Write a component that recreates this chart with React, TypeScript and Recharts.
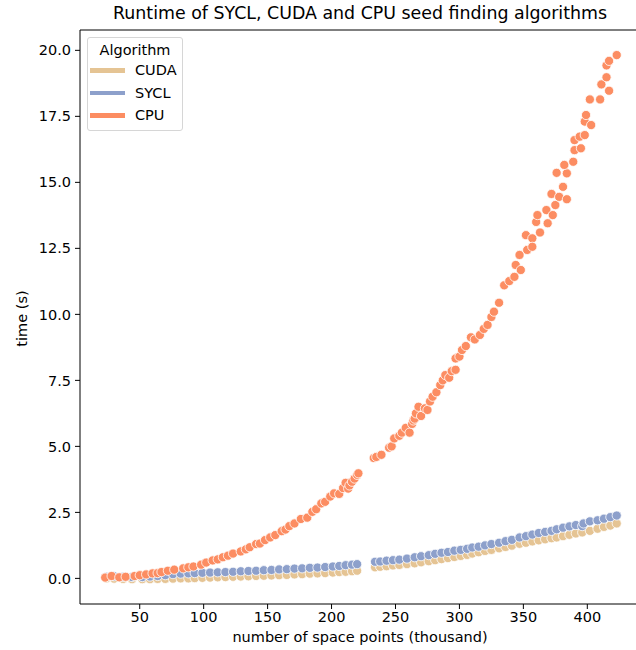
import React from 'react';
import { ScatterChart, Scatter, XAxis, YAxis, ReferenceLine } from 'recharts';

// points: [space points (thousand), time (s)]
const cudaPoints: [number, number][] = [
  [24, 0.0], [30, -0.01], [37, -0.02], [44, -0.03], [52, -0.03], [58, -0.03], [64, -0.02], [70, -0.02],
  [76, -0.01], [82, 0.0], [88, 0.0], [93, 0.01], [99, 0.02], [105, 0.03], [111, 0.04], [117, 0.05],
  [123, 0.06], [129, 0.07], [135, 0.08], [141, 0.09], [147, 0.1], [153, 0.11], [159, 0.12], [165, 0.13],
  [171, 0.15], [177, 0.16], [183, 0.18], [189, 0.19], [195, 0.2], [201, 0.22], [206, 0.24], [211, 0.25],
  [216, 0.27], [220, 0.29], [234, 0.42], [238, 0.44], [243, 0.46], [248, 0.49], [253, 0.51], [259, 0.54],
  [265, 0.57], [270, 0.61], [276, 0.65], [281, 0.69], [286, 0.73], [291, 0.77], [296, 0.81], [301, 0.85],
  [306, 0.89], [310, 0.94], [315, 0.99], [320, 1.04], [325, 1.08], [331, 1.14], [336, 1.19], [341, 1.24],
  [347, 1.31], [352, 1.35], [357, 1.4], [362, 1.44], [367, 1.48], [372, 1.52], [376, 1.55], [381, 1.6],
  [386, 1.65], [391, 1.7], [396, 1.74], [402, 1.8], [408, 1.88], [413, 1.95], [418, 2.0], [423, 2.08],
];

const syclPoints: [number, number][] = [
  [24, 0.06], [30, 0.08], [37, 0.06], [44, 0.05], [52, 0.05], [58, 0.07], [64, 0.09], [70, 0.12],
  [76, 0.16], [82, 0.18], [88, 0.19], [93, 0.2], [99, 0.21], [105, 0.22], [111, 0.23], [117, 0.24],
  [123, 0.25], [129, 0.27], [135, 0.28], [141, 0.29], [147, 0.31], [153, 0.32], [159, 0.34], [165, 0.35],
  [171, 0.37], [177, 0.38], [183, 0.4], [189, 0.41], [195, 0.43], [201, 0.45], [206, 0.47], [211, 0.5],
  [216, 0.52], [220, 0.54], [234, 0.63], [238, 0.64], [243, 0.67], [248, 0.69], [253, 0.71], [259, 0.75],
  [265, 0.8], [270, 0.84], [276, 0.88], [281, 0.93], [286, 0.97], [291, 1.0], [296, 1.05], [301, 1.08],
  [306, 1.12], [310, 1.17], [315, 1.2], [320, 1.25], [325, 1.3], [331, 1.35], [336, 1.41], [341, 1.46],
  [347, 1.55], [352, 1.6], [357, 1.66], [362, 1.72], [367, 1.76], [372, 1.8], [376, 1.86], [381, 1.92],
  [386, 1.97], [391, 2.02], [396, 1.98], [397, 2.08], [402, 2.16], [408, 2.2], [413, 2.26], [418, 2.32],
  [423, 2.38],
];

const cpuPoints: [number, number][] = [
  [23, 0.03], [28, 0.09], [34, 0.04], [39, 0.06], [46, 0.09], [50, 0.12], [55, 0.15], [60, 0.19],
  [64, 0.2], [67, 0.24], [72, 0.29], [77, 0.33], [84, 0.38], [88, 0.42], [92, 0.45], [98, 0.52],
  [102, 0.6], [107, 0.68], [111, 0.72], [115, 0.8], [119, 0.86], [123, 0.94], [129, 1.02], [133, 1.1],
  [136, 1.18], [141, 1.3], [144, 1.32], [148, 1.45], [152, 1.55], [156, 1.64], [161, 1.79], [164, 1.85],
  [167, 1.98], [171, 2.08], [176, 2.25], [181, 2.3], [185, 2.52], [188, 2.62], [192, 2.84], [195, 2.9],
  [199, 3.1], [202, 3.22], [206, 3.2], [209, 3.42], [211, 3.62], [213, 3.4], [214, 3.52], [216, 3.66],
  [218, 3.78], [220, 3.92], [221, 3.98],
  [233, 4.56], [235, 4.6], [239, 4.68], [245, 4.95], [247, 5.0], [249, 5.3], [253, 5.4], [255, 5.52],
  [258, 5.7], [261, 5.52], [263, 5.85], [264, 5.98], [265, 6.05], [266, 6.25], [268, 6.5], [270, 6.15],
  [273, 6.44], [275, 6.38], [277, 6.7], [279, 6.88], [282, 7.05], [285, 7.32], [287, 7.5], [289, 7.7],
  [292, 7.6], [294, 7.85], [297, 7.9], [297, 8.33], [300, 8.4], [302, 8.65], [305, 8.8], [309, 9.13],
  [312, 9.05], [316, 9.22], [319, 9.45], [322, 9.6], [325, 9.9], [327, 10.1], [331, 10.44], [335, 11.1],
  [339, 11.26], [343, 11.42], [344, 11.87], [347, 12.25], [348, 11.68], [352, 13.0], [353, 12.44], [357, 12.88],
  [357, 12.56], [360, 13.5], [361, 13.76], [363, 13.1], [368, 13.95], [369, 13.45], [373, 13.76], [375, 14.14],
  [372, 14.56], [378, 14.45], [381, 14.83], [384, 14.36], [376, 15.36], [384, 15.34], [382, 15.66], [389, 15.78],
  [390, 16.22], [395, 16.29], [390, 16.6], [394, 16.73], [398, 16.79], [398, 17.3], [399, 17.55], [403, 17.17],
  [402, 18.14], [410, 18.14], [417, 18.47], [411, 18.71], [415, 18.98], [415, 19.43], [417, 19.6], [423, 19.82],
];

const xTicks = [50, 100, 150, 200, 250, 300, 350, 400];
const yTicks = [0, 2.5, 5, 7.5, 10, 12.5, 15, 17.5, 20];
const seriesNames = ['CUDA', 'SYCL', 'CPU'];

const font = '"DejaVu Sans", sans-serif';
const colors: Record<string, string> = { CUDA: '#e5c494', SYCL: '#8da0cb', CPU: '#fc8d62' };

const toRows = (pts: [number, number][]) => pts.map(([x, y]) => ({ x, y }));

const dot = (fill: string) => (props: any) => (
  <circle cx={props.cx} cy={props.cy} r={4.6} fill={fill} stroke="#fff" strokeWidth={0.8} />
);

const LegendBox = () => (
  <div
    style={{
      position: 'absolute',
      left: 87,
      top: 37,
      width: 96,
      height: 94,
      border: '1px solid #d6d6d6',
      borderRadius: 3,
      background: 'rgba(255,255,255,0.8)',
      fontFamily: font,
      fontSize: 14.5,
      color: '#000',
      boxSizing: 'border-box',
    }}
  >
    <div style={{ textAlign: 'center', marginTop: 3, lineHeight: '18px' }}>Algorithm</div>
    {seriesNames.map((name) => (
      <div key={name} style={{ display: 'flex', alignItems: 'center', height: 22.5, marginLeft: 2 }}>
        <div style={{ width: 35, height: 4.5, background: colors[name], marginRight: 10 }} />
        <span style={{ lineHeight: '16px' }}>{name}</span>
      </div>
    ))}
  </div>
);

export default function App() {
  return (
    <div style={{ position: 'absolute', left: 0, top: 0, width: 636, height: 650, overflow: 'hidden', background: '#fff' }}>
      <div
        style={{
          position: 'absolute', left: 80, top: 3, width: 560, textAlign: 'center',
          fontFamily: font, fontSize: 17.4, lineHeight: '21px', color: '#000', whiteSpace: 'nowrap',
        }}
      >
        Runtime of SYCL, CUDA and CPU seed finding algorithms
      </div>
      <ScatterChart width={640} height={650} margin={{ top: 30, right: 0, bottom: 0, left: 0 }}>
        <XAxis
          type="number"
          dataKey="x"
          domain={[3.3, 441.2]}
          ticks={xTicks}
          height={46}
          allowDataOverflow
          stroke="#000"
          tickSize={5}
          tickMargin={3}
          tick={{ fill: '#000', fontSize: 14.5, fontFamily: font }}
        />
        <YAxis
          type="number"
          dataKey="y"
          domain={[-0.97, 20.77]}
          ticks={yTicks}
          width={80}
          allowDataOverflow
          stroke="#000"
          tickSize={5}
          tickMargin={4}
          tickFormatter={(v: number) => v.toFixed(1)}
          tick={{ fill: '#000', fontSize: 14.5, fontFamily: font }}
        />
        <ReferenceLine y={20.77} stroke="#000" strokeWidth={1} />
        <Scatter name="CUDA" data={toRows(cudaPoints)} fill={colors.CUDA} shape={dot(colors.CUDA)} isAnimationActive={false} />
        <Scatter name="SYCL" data={toRows(syclPoints)} fill={colors.SYCL} shape={dot(colors.SYCL)} isAnimationActive={false} />
        <Scatter name="CPU" data={toRows(cpuPoints)} fill={colors.CPU} shape={dot(colors.CPU)} isAnimationActive={false} />
      </ScatterChart>
      <LegendBox />
      <div
        style={{
          position: 'absolute', left: 80, top: 629, width: 560, textAlign: 'center',
          fontFamily: font, fontSize: 14.5, lineHeight: '17px', color: '#000',
        }}
      >
        number of space points (thousand)
      </div>
      <div
        style={{
          position: 'absolute', left: 22 - 50, top: 318 - 8.5, width: 100, textAlign: 'center',
          fontFamily: font, fontSize: 14.5, lineHeight: '17px', color: '#000',
          transform: 'rotate(-90deg)',
        }}
      >
        time (s)
      </div>
    </div>
  );
}
